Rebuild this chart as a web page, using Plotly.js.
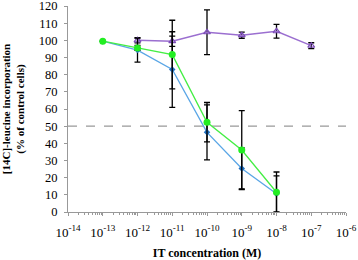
<!DOCTYPE html>
<html><head><meta charset="utf-8">
<script src="https://cdn.plot.ly/plotly-3.0.1.min.js"></script>
<style>html,body{margin:0;padding:0;background:#fff}#c{width:358px;height:260px}</style>
</head><body><div id="c"></div>
<script>
// concentrations (M)
const concA = [1e-13, 1e-12, 1e-11, 1e-10, 1e-9, 1e-8];
const blueVals = [99.5, 94.3, 83, 46.4, 25.4, 10.6];
const blueErr = [0, 7, 22, 16, 12, 10.5];
const greenVals = [99.5, 95.6, 91.7, 52.3, 36.1, 11.5];
const greenErr = [0, 1.5, 20, 11.5, 23, 11.8];
const concP = [1e-12, 1e-11, 1e-10, 1e-9, 1e-8, 1e-7];
const purpleVals = [100, 99.5, 104.7, 103, 105.3, 96.9];
const purpleErr = [1.5, 3, 13, 1.8, 4, 1.7];
const refLevel = 50;
const tickExps = [-14, -13, -12, -11, -10, -9, -8, -7, -6];

const serif = '"Liberation Serif", "Times New Roman", serif';
const eb = (arr) => ({type:'data', array:arr, visible:true, color:'#000', thickness:1.3, width:3});

const traces = [
  {x:[1e-14, 1e-6], y:[refLevel, refLevel], mode:'lines', line:{color:'#999', width:1.2, dash:'dash'}, hoverinfo:'skip'},
  {x:concP, y:purpleVals, mode:'lines+markers', line:{color:'#9b6fd0', width:1.5},
   marker:{symbol:'triangle-up-open', size:6, color:'#7d4fb8', line:{width:1.2}}, error_y:eb(purpleErr)},
  {x:concA, y:blueVals, mode:'lines+markers', line:{color:'#5aa6e6', width:1.3},
   marker:{symbol:'diamond', size:5, color:'#1f6fc0'}, error_y:eb(blueErr)},
  {x:concA, y:greenVals, mode:'lines+markers', line:{color:'#44ee44', width:1.3},
   marker:{symbol:'circle', size:7, color:'#22ee22'}, error_y:eb(greenErr)}
];

const layout = {
  width:358, height:260, showlegend:false,
  margin:{l:68, r:12, t:6, b:48},
  paper_bgcolor:'#fff', plot_bgcolor:'#fff',
  font:{family:serif, size:12, color:'#000'},
  xaxis:{type:'log', range:[-14, -6], showgrid:false, zeroline:false,
    showline:true, linecolor:'#999', linewidth:1,
    tickmode:'array', tickvals:tickExps.map(e=>Math.pow(10,e)),
    ticktext:tickExps.map(e=>'10<sup>'+e+'</sup>'),
    ticks:'outside', ticklen:3, tickcolor:'#999', ticklabelstandoff:5,
    minor:{ticks:'outside', ticklen:2, tickcolor:'#999', dtick:'D1', showgrid:false},
    tickfont:{family:serif, size:13},
    title:{text:'<b>IT concentration (M)</b>', font:{family:serif, size:12}, standoff:10}},
  yaxis:{range:[0,120], dtick:10, showgrid:false, zeroline:false,
    showline:true, linecolor:'#999', linewidth:1,
    ticks:'outside', ticklen:3, tickcolor:'#999', ticklabelstandoff:4,
    ticklabeloverflow:'allow',
    tickfont:{family:serif, size:12.5},
    title:{text:'<b>[14C]-leucine incorporation<br>(% of control cells)</b>', font:{family:serif, size:11}, standoff:12}}
};
Plotly.newPlot('c', traces, layout, {staticPlot:true});
</script></body></html>
